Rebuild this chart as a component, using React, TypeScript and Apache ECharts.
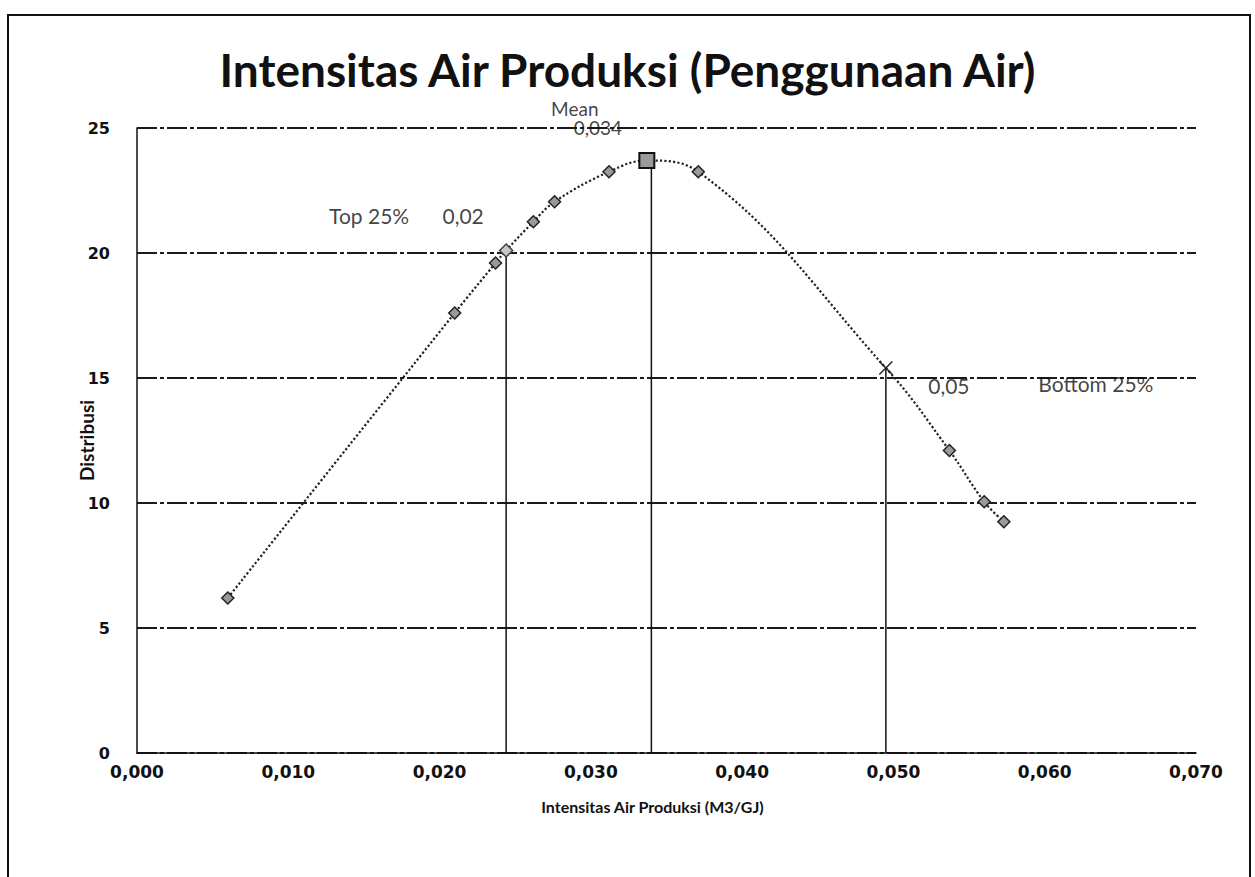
import React, { useEffect, useRef } from "react";
import * as echarts from "echarts";

// Distribution curve points (Intensitas Air Produksi, Distribusi)
const curveX = [0.006, 0.021, 0.0237, 0.0244, 0.0262, 0.0276, 0.0312, 0.0337, 0.0371, 0.0495, 0.0537, 0.056, 0.0573];
const curveY = [6.2, 17.6, 19.6, 20.1, 21.25, 22.05, 23.25, 23.7, 23.25, 15.4, 12.1, 10.05, 9.25];

// Reference lines
const meanX = 0.034;
const meanY = 23.7;
const topX = 0.0244;
const topY = 20.1;
const bottomX = 0.0495;
const bottomY = 15.4;

const TOP_INDEX = 3;
const MEAN_INDEX = 7;
const BOTTOM_INDEX = 9;

// Annotation texts
const annotationTexts = ["Mean", "0,034", "Top 25%", "0,02", "0,05", "Bottom 25%"];

const titleText = "Intensitas Air Produksi (Penggunaan Air)";
const xAxisName = "Intensitas Air Produksi (M3/GJ)";
const yAxisName = "Distribusi";

export default function App() {
  const ref = useRef<HTMLDivElement>(null);

  useEffect(() => {
    if (!ref.current) return;
    document.body.style.margin = "0";
    const chart = echarts.init(ref.current, null, { renderer: "svg" });

    const curveData = curveX.map((x, i) => {
      const item: any = { value: [x, curveY[i]] };
      if (i === MEAN_INDEX) {
        item.symbol = "rect";
        item.symbolSize = 15;
        item.itemStyle = { color: "#9a9a9a", borderColor: "#111", borderWidth: 2 };
      } else if (i === BOTTOM_INDEX) {
        item.symbol = "path://M0,0L10,10M10,0L0,10";
        item.symbolSize = 13;
        item.itemStyle = { color: "none", borderColor: "#222", borderWidth: 1.5 };
      } else if (i === TOP_INDEX) {
        item.symbolSize = 13;
        item.itemStyle = { color: "#c8c8c8", borderColor: "#444", borderWidth: 1.5 };
      }
      return item;
    });

    const labelFont = { fontFamily: "Lato", fontSize: 21, color: "#111" };

    const annotations = [
      { value: [curveX[MEAN_INDEX], curveY[MEAN_INDEX]], text: annotationTexts[0], offset: [-72, -52], size: 19 },
      { value: [curveX[MEAN_INDEX], curveY[MEAN_INDEX]], text: annotationTexts[1], offset: [-49, -33], size: 19 },
      { value: [topX, topY], text: annotationTexts[2], offset: [-137, -35], size: 21 },
      { value: [topX, topY], text: annotationTexts[3], offset: [-43, -35], size: 21 },
      { value: [bottomX, bottomY], text: annotationTexts[4], offset: [63, 17], size: 21 },
      { value: [bottomX, bottomY], text: annotationTexts[5], offset: [210, 15], size: 21 },
    ].map((a) => ({
      value: a.value,
      label: {
        show: true,
        position: "inside",
        formatter: a.text,
        offset: a.offset,
        ...labelFont,
        fontSize: a.size,
      },
    }));

    const vline = (x: number, y: number) => ({
      type: "line",
      data: [[x, 0], [x, y]],
      symbol: "none",
      lineStyle: { color: "#111", width: 1.5, type: "solid" },
      z: 1,
      silent: true,
    });

    chart.setOption({
      animation: false,
      backgroundColor: "#fff",
      title: {
        text: titleText,
        left: "center",
        top: 41,
        textStyle: { fontFamily: "Lato", fontWeight: "bold", fontSize: 46, color: "#111" },
      },
      graphic: [
        {
          type: "rect",
          shape: { x: 8, y: 15, width: 1242, height: 900 },
          style: { fill: "none", stroke: "#111", lineWidth: 2 },
          silent: true,
        },
      ],
      grid: { left: 137, right: 59, top: 128, bottom: 124, containLabel: false },
      xAxis: {
        type: "value",
        min: 0,
        max: 0.07,
        interval: 0.01,
        name: xAxisName,
        nameLocation: "middle",
        nameGap: 45,
        nameMoveOverlap: false,
        nameTextStyle: {
          fontFamily: "Lato",
          fontWeight: "bold",
          fontSize: 16,
          color: "#111",
          padding: [0, 28, 0, 0],
        },
        axisLine: { show: true, lineStyle: { color: "#111", width: 1.5 } },
        axisTick: { show: false },
        splitLine: { show: false },
        axisLabel: {
          fontFamily: "DejaVu Sans",
          fontWeight: "bold",
          fontSize: 17,
          color: "#111",
          margin: 10,
          formatter: (v: number) => v.toFixed(3).replace(".", ","),
        },
      },
      yAxis: {
        type: "value",
        min: 0,
        max: 25,
        interval: 5,
        name: yAxisName,
        nameLocation: "middle",
        nameGap: 41,
        nameMoveOverlap: false,
        nameRotate: 90,
        nameTextStyle: { fontFamily: "Lato", fontWeight: "bold", fontSize: 19, color: "#111" },
        axisLine: { show: true, lineStyle: { color: "#111", width: 1.5 } },
        axisTick: { show: false },
        splitLine: { show: true, lineStyle: { color: "#1a1a1a", width: 1.8, type: [20, 3, 4, 3] } },
        axisLabel: {
          fontFamily: "DejaVu Sans",
          fontWeight: "bold",
          fontSize: 16,
          color: "#111",
          margin: 27,
        },
      },
      series: [
        vline(topX, topY),
        vline(meanX, meanY),
        vline(bottomX, bottomY),
        {
          type: "line",
          data: curveData,
          smooth: 0.4,
          symbol: "diamond",
          symbolSize: 12,
          showAllSymbol: true,
          itemStyle: { color: "#9a9a9a", borderColor: "#222", borderWidth: 1.5 },
          lineStyle: { color: "#222", width: 2.2, type: "dotted" },
          z: 3,
        },
        {
          type: "scatter",
          data: annotations,
          symbolSize: 1,
          itemStyle: { color: "rgba(0,0,0,0)" },
          silent: true,
          z: 4,
        },
      ],
    });

    return () => chart.dispose();
  }, []);

  return <div ref={ref} style={{ width: 1255, height: 877 }} />;
}
